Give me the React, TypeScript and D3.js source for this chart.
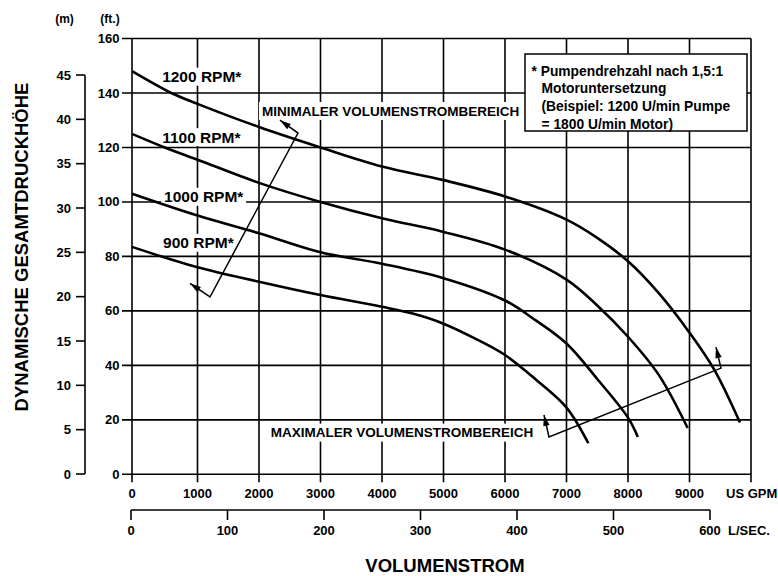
import React from "react";
import * as d3 from "d3";

// axis ticks
const gpmTicks = [0, 1000, 2000, 3000, 4000, 5000, 6000, 7000, 8000, 9000];
const lpsTicks = [0, 100, 200, 300, 400, 500, 600];
const ftTicks = [0, 20, 40, 60, 80, 100, 120, 140, 160];
const mTicks = [0, 5, 10, 15, 20, 25, 30, 35, 40, 45];

// pump curves: [US GPM, head ft]
const rpm1200: [number, number][] = [
  [0, 148], [600, 140], [1000, 136], [2000, 127.5], [3000, 120], [4000, 113],
  [5000, 108], [6000, 102], [7000, 93.5], [7500, 86.8], [8000, 78.2], [8500, 66.5],
  [9000, 52], [9400, 38.5], [9820, 19],
];
const rpm1100: [number, number][] = [
  [0, 125], [500, 120], [1000, 115.5], [2000, 107], [3000, 100], [4000, 94],
  [5000, 89], [6000, 82.5], [7000, 71.5], [7500, 62], [8000, 50.5], [8500, 36.5],
  [8970, 17],
];
const rpm1000: [number, number][] = [
  [0, 103], [1000, 95], [2000, 88.5], [3000, 81.5], [4000, 77.3], [5000, 72],
  [6000, 63.8], [6500, 56.5], [7000, 48], [7500, 35], [8000, 20.8], [8160, 13.7],
];
const rpm900: [number, number][] = [
  [0, 83.5], [1000, 76], [2000, 70.7], [3000, 65.8], [4000, 61.5], [4500, 59],
  [5000, 55.3], [5500, 50], [6000, 43.8], [6500, 34.8], [7000, 24.5], [7355, 11.4],
];
const curves = [rpm1200, rpm1100, rpm1000, rpm900];

// curve labels: text, left GPM, centre ft
const curveLabels: [string, number, number][] = [
  ["1200 RPM*", 460, 146],
  ["1100 RPM*", 460, 123.8],
  ["1000 RPM*", 490, 101.9],
  ["900 RPM*", 475, 85],
];

// flow range brackets: tip, corner, corner, tip  [GPM, ft]
const minArrow: [number, number][] = [[885, 70.1], [1203, 65.1], [2634, 125.3], [2341, 130]];
const maxArrow: [number, number][] = [[6634, 21.8], [6715, 13.7], [9512, 39], [9431, 46.7]];

const legendLines = [
  "* Pumpendrehzahl nach 1,5:1",
  "Motoruntersetzung",
  "(Beispiel: 1200 U/min Pumpe",
  "= 1800 U/min Motor)",
];

const FONT = "'Liberation Sans', Arial, Helvetica, sans-serif";

const App: React.FC = () => {
  const width = 778;
  const height = 576;

  const x = d3.scaleLinear().domain([0, 1000, 10000]).range([132, 197.5, 751]);
  const y = d3.scaleLinear().domain([0, 160]).range([474.3, 38.5]);
  const yM = d3.scaleLinear().domain([0, 45]).range([474, 75]);
  const xL = d3.scaleLinear().domain([0, 600]).range([131, 710]);

  const line = d3.line<[number, number]>()
    .x(d => x(d[0]))
    .y(d => y(d[1]))
    .curve(d3.curveCatmullRom.alpha(0.5));

  const plotL = x(0);
  const plotR = x(10000);
  const plotB = y(0);
  const plotT = y(160);
  const mAxisX = 85;
  const lpsY = 510;

  const arrowHead = (tip: [number, number], from: [number, number]) => {
    const tx = x(tip[0]), ty = y(tip[1]);
    const fx = x(from[0]), fy = y(from[1]);
    const ang = Math.atan2(ty - fy, tx - fx);
    const len = 11, half = 3.2;
    const bx = tx - len * Math.cos(ang), by = ty - len * Math.sin(ang);
    const px = -Math.sin(ang) * half, py = Math.cos(ang) * half;
    return `M${tx},${ty}L${bx + px},${by + py}L${bx - px},${by - py}Z`;
  };

  const bracket = (pts: [number, number][]) => (
    <g>
      <path
        d={d3.line<[number, number]>().x(d => x(d[0])).y(d => y(d[1]))(pts) ?? ""}
        fill="none" stroke="#000" strokeWidth={1.5}
      />
      <path d={arrowHead(pts[0], pts[1])} fill="#000" />
      <path d={arrowHead(pts[3], pts[2])} fill="#000" />
    </g>
  );

  return (
    <svg width={width} height={height}
      style={{ position: "absolute", left: 0, top: 0, background: "#fff" }}
      fontFamily={FONT} fontWeight="bold">
      {/* grid */}
      {ftTicks.map(t => (
        <line key={"h" + t} x1={plotL - 10} x2={plotR} y1={y(t)} y2={y(t)} stroke="#000" strokeWidth={1.6} />
      ))}
      {[...gpmTicks, 10000].map(t => (
        <line key={"v" + t} x1={x(t)} x2={x(t)} y1={plotT} y2={plotB + 8} stroke="#000" strokeWidth={1.6} />
      ))}

      {/* white backgrounds behind labels */}
      {curveLabels.map(([txt, g, f]) => (
        <rect key={"bg" + txt} x={x(g) - 3} y={y(f) - 9} width={txt.length * 9 + 4} height={18} fill="#fff" />
      ))}
      <rect x={x(2049) - 3} y={y(133.4) - 9} width={264} height={18} fill="#fff" />
      <rect x={x(2190) - 3} y={y(15.3) - 9} width={269} height={18} fill="#fff" />

      {/* curves */}
      {curves.map((c, i) => (
        <path key={"c" + i} d={line(c) ?? ""} fill="none" stroke="#000" strokeWidth={2.6} />
      ))}

      {bracket(minArrow)}
      {bracket(maxArrow)}

      {/* curve labels */}
      {curveLabels.map(([txt, g, f]) => (
        <text key={"t" + txt} x={x(g)} y={y(f)} dy="0.35em" fontSize={15.5}>{txt}</text>
      ))}
      <text x={x(2049)} y={y(133.4)} dy="0.35em" fontSize={13.5}>MINIMALER VOLUMENSTROMBEREICH</text>
      <text x={x(2190)} y={y(15.3)} dy="0.35em" fontSize={13.5}>MAXIMALER VOLUMENSTROMBEREICH</text>

      {/* legend */}
      <rect x={525} y={54} width={222} height={77} fill="#fff" stroke="#000" strokeWidth={1.5} />
      {legendLines.map((l, i) => (
        <text key={"l" + i} x={i === 0 ? 531.5 : 541.5} y={71 + i * 17.6} dy="0.35em" fontSize={13.8}>{l}</text>
      ))}

      {/* ft axis labels */}
      {ftTicks.map(t => (
        <text key={"ft" + t} x={119.5} y={y(t)} dy="0.35em" fontSize={13} textAnchor="end">{t}</text>
      ))}
      <text x={110} y={19} dy="0.35em" fontSize={12} textAnchor="middle">(ft.)</text>

      {/* meter axis */}
      <line x1={mAxisX} x2={mAxisX} y1={yM(45)} y2={yM(0)} stroke="#000" strokeWidth={1.6} />
      {mTicks.map(t => (
        <g key={"m" + t}>
          <line x1={mAxisX - 9} x2={mAxisX} y1={yM(t)} y2={yM(t)} stroke="#000" strokeWidth={1.6} />
          <text x={71} y={yM(t)} dy="0.35em" fontSize={13} textAnchor="end">{t}</text>
        </g>
      ))}
      <text x={64.5} y={19} dy="0.35em" fontSize={12} textAnchor="middle">(m)</text>

      {/* GPM axis labels */}
      {gpmTicks.map(t => (
        <text key={"g" + t} x={x(t)} y={493} dy="0.35em" fontSize={13} textAnchor="middle">{t}</text>
      ))}
      <text x={726} y={493} dy="0.35em" fontSize={13}>US GPM</text>

      {/* L/sec axis */}
      <line x1={xL(0)} x2={xL(600)} y1={lpsY} y2={lpsY} stroke="#000" strokeWidth={1.6} />
      {lpsTicks.map(t => (
        <g key={"ls" + t}>
          <line x1={xL(t)} x2={xL(t)} y1={lpsY} y2={lpsY + 10} stroke="#000" strokeWidth={1.6} />
          <text x={xL(t)} y={530} dy="0.35em" fontSize={13} textAnchor="middle">{t}</text>
        </g>
      ))}
      <text x={728} y={530} dy="0.35em" fontSize={13}>L/SEC.</text>

      {/* axis titles */}
      <text x={445} y={566} dy="0.35em" fontSize={18.5} textAnchor="middle">VOLUMENSTROM</text>
      <text transform={`translate(22,247) rotate(-90)`} dy="0.35em" fontSize={18.5} textAnchor="middle">
        DYNAMISCHE GESAMTDRUCKHÖHE
      </text>
    </svg>
  );
};

export default App;
